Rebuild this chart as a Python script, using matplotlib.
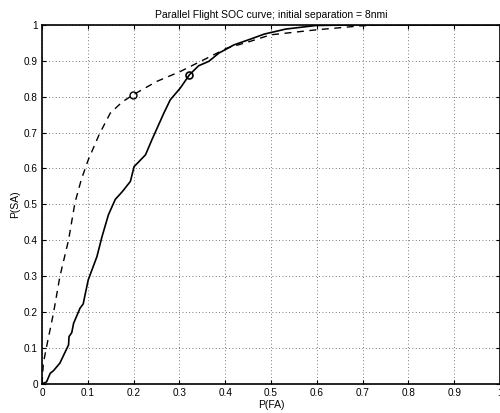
import matplotlib
matplotlib.use("Agg")
import matplotlib.pyplot as plt

# Solid curve
solid_x = [0, 0.010, 0.018, 0.025, 0.039, 0.058, 0.059, 0.065, 0.069, 0.083, 0.090, 0.094, 0.101,
           0.120, 0.131, 0.145, 0.160, 0.175, 0.193, 0.201, 0.226, 0.240, 0.266, 0.280, 0.302, 0.322,
           0.342, 0.364, 0.386, 0.419, 0.455, 0.485, 0.532, 0.598, 0.7, 0.8, 0.9, 1.0]
solid_y = [0, 0.006, 0.030, 0.037, 0.058, 0.109, 0.132, 0.143, 0.169, 0.211, 0.223, 0.248, 0.290,
           0.355, 0.410, 0.471, 0.514, 0.535, 0.564, 0.605, 0.638, 0.680, 0.754, 0.791, 0.824, 0.861,
           0.886, 0.898, 0.921, 0.944, 0.960, 0.974, 0.988, 0.998, 1.0, 1.0, 1.0, 1.0]

# Dashed curve
dash_x = [0, 0.003, 0.010, 0.025, 0.039, 0.058, 0.072, 0.086, 0.101, 0.125, 0.149, 0.175, 0.199,
          0.250, 0.302, 0.346, 0.404, 0.455, 0.499, 0.599, 0.696, 0.75, 0.8, 0.9, 1.0]
dash_y = [0, 0.058, 0.104, 0.197, 0.299, 0.401, 0.505, 0.570, 0.624, 0.695, 0.754, 0.785, 0.805,
          0.842, 0.870, 0.898, 0.935, 0.954, 0.972, 0.986, 0.997, 1.0, 1.0, 1.0, 1.0]

# Operating points (circles)
pt_solid = (0.322, 0.861)
pt_dash = (0.199, 0.805)

title = "Parallel Flight SOC curve; initial separation = 8nmi"
xticks = [0, 0.1, 0.2, 0.3, 0.4, 0.5, 0.6, 0.7, 0.8, 0.9, 1]
yticks = [0, 0.1, 0.2, 0.3, 0.4, 0.5, 0.6, 0.7, 0.8, 0.9, 1]
tick_labels = ["0", "0.1", "0.2", "0.3", "0.4", "0.5", "0.6", "0.7", "0.8", "0.9", "1"]

plt.rcParams['font.family'] = ['Liberation Sans', 'DejaVu Sans']
fig = plt.figure(figsize=(5.00, 4.13), dpi=100)
ax = fig.add_axes([0.084, 0.0702, 0.916, 0.8698])

ax.plot(solid_x, solid_y, color='black', linewidth=1.2, linestyle='-')
ax.plot(dash_x, dash_y, color='black', linewidth=1.0, linestyle=(0, (5, 4)))
ax.plot([pt_solid[0]], [pt_solid[1]], marker='o', markersize=5, markerfacecolor='none',
        markeredgecolor='black', markeredgewidth=1.2)
ax.plot([pt_dash[0]], [pt_dash[1]], marker='o', markersize=5, markerfacecolor='none',
        markeredgecolor='black', markeredgewidth=1.0)

ax.set_xlim(0, 1)
ax.set_ylim(0, 1)
ax.set_xticks(xticks)
ax.set_yticks(yticks)
ax.set_xticklabels(tick_labels)
ax.set_yticklabels(tick_labels)
ax.tick_params(direction='in', top=True, right=True, labelsize=7.2, length=3, width=0.8, pad=3)
ax.grid(True, linestyle=(0, (1, 3)), color='black', linewidth=0.6, alpha=0.7)
for s in ax.spines.values():
    s.set_linewidth(1.2)

ax.set_title(title, fontsize=7.5, pad=5)
ax.set_xlabel("P(FA)", fontsize=7.5, labelpad=1)
ax.set_ylabel("P(SA)", fontsize=7.5, labelpad=3)

fig.savefig("out.png", dpi=100)
